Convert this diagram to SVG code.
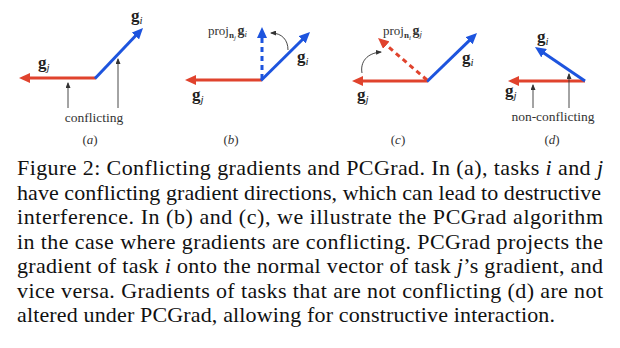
<svg xmlns="http://www.w3.org/2000/svg" width="620" height="348" viewBox="0 0 620 348">
<style>
text{font-family:"Liberation Serif","Times New Roman",Times,serif}
.red{stroke:#e0432d;stroke-width:3;fill:none}
.blue{stroke:#1d54de;stroke-width:3;fill:none}
.dash{stroke-dasharray:5,4}
.thin{stroke:#333;stroke-width:0.9;fill:none}
.g{font-weight:bold;font-size:17px;fill:#222}
.sub{font-style:italic;font-weight:normal;font-size:11px}
.ann{font-size:13.5px;fill:#333}
.pl{font-size:13px;fill:#333}
.cap{font-size:22px;fill:#111}
.it{font-style:italic}
.b{font-weight:bold}
</style>
<defs>
<marker id="ar" viewBox="0 0 11 10" refX="3" refY="5" markerWidth="11" markerHeight="10" markerUnits="userSpaceOnUse" orient="auto"><path d="M0,0 L11,5 L0,10 z" fill="#e0432d"/></marker>
<marker id="ab" viewBox="0 0 11 10" refX="3" refY="5" markerWidth="11" markerHeight="10" markerUnits="userSpaceOnUse" orient="auto"><path d="M0,0 L11,5 L0,10 z" fill="#1d54de"/></marker>
<marker id="ak" viewBox="0 0 6 5" refX="5" refY="2.5" markerWidth="6" markerHeight="5" markerUnits="userSpaceOnUse" orient="auto"><path d="M0,0 L6,2.5 L0,5 z" fill="#333"/></marker>
</defs>

<g id="panel-a">
<line class="red" x1="96" y1="78" x2="27" y2="78" marker-end="url(#ar)"/>
<line class="blue" x1="95" y1="78.5" x2="137.5" y2="33.8" marker-end="url(#ab)"/>
<text class="g" x="131" y="21">g<tspan class="sub" dy="3">i</tspan></text>
<text class="g" x="38" y="68">g<tspan class="sub" dy="3">j</tspan></text>
<line class="thin" x1="68" y1="108" x2="68" y2="83" marker-end="url(#ak)"/>
<line class="thin" x1="118" y1="108" x2="118" y2="59" marker-end="url(#ak)"/>
<text class="ann" x="94" y="122" text-anchor="middle">conflicting</text>
<text class="pl" x="90" y="144" text-anchor="middle">(<tspan class="it">a</tspan>)</text>
</g>

<g id="panel-b">
<line class="red" x1="262" y1="80" x2="193" y2="80" marker-end="url(#ar)"/>
<line class="blue" x1="261" y1="80.5" x2="304.3" y2="37.7" marker-end="url(#ab)"/>
<line class="blue dash" x1="262" y1="79" x2="262" y2="35" marker-end="url(#ab)"/>
<text class="pl" x="208" y="35">proj<tspan class="b" font-size="9" dy="3">n</tspan><tspan class="it" font-size="7" dy="1.5">j</tspan><tspan class="b" font-size="14" dx="1.5" dy="-4.5">g</tspan><tspan class="it" font-size="9" dy="2">i</tspan></text>
<path class="thin" d="M288,50 C288,40 282,33 271,33" marker-end="url(#ak)"/>
<text class="g" x="297" y="62">g<tspan class="sub" dy="3">i</tspan></text>
<text class="g" x="192" y="100">g<tspan class="sub" dy="3">j</tspan></text>
<text class="pl" x="231" y="144" text-anchor="middle">(<tspan class="it">b</tspan>)</text>
</g>

<g id="panel-c">
<line class="red" x1="428" y1="81" x2="360" y2="81" marker-end="url(#ar)"/>
<line class="blue" x1="427" y1="81.5" x2="471.3" y2="38.6" marker-end="url(#ab)"/>
<line class="red dash" x1="427" y1="80" x2="384.1" y2="43.2" marker-end="url(#ar)"/>
<text class="pl" x="383" y="35">proj<tspan class="b" font-size="9" dy="3">n</tspan><tspan class="it" font-size="7" dy="1.5">i</tspan><tspan class="b" font-size="14" dx="1.5" dy="-4.5">g</tspan><tspan class="it" font-size="9" dy="2">j</tspan></text>
<path class="thin" d="M362,73 C360,62 367,53 381,52" marker-end="url(#ak)"/>
<text class="g" x="462" y="63">g<tspan class="sub" dy="3">i</tspan></text>
<text class="g" x="357" y="100">g<tspan class="sub" dy="3">j</tspan></text>
<text class="pl" x="398" y="144" text-anchor="middle">(<tspan class="it">c</tspan>)</text>
</g>

<g id="panel-d">
<line class="red" x1="585" y1="81" x2="516" y2="81" marker-end="url(#ar)"/>
<line class="blue" x1="585" y1="81" x2="541.6" y2="51.5" marker-end="url(#ab)"/>
<text class="g" x="537" y="42">g<tspan class="sub" dy="3">i</tspan></text>
<text class="g" x="505" y="96">g<tspan class="sub" dy="3">j</tspan></text>
<line class="thin" x1="533" y1="108" x2="533" y2="85" marker-end="url(#ak)"/>
<line class="thin" x1="569" y1="108" x2="569" y2="74" marker-end="url(#ak)"/>
<text class="ann" x="553" y="121" text-anchor="middle">non-conflicting</text>
<text class="pl" x="552" y="144" text-anchor="middle">(<tspan class="it">d</tspan>)</text>
</g>

<g id="caption">
<text class="cap" x="17" y="175" textLength="586" lengthAdjust="spacing">Figure 2: Conflicting gradients and PCGrad. In (a), tasks <tspan class="it">i</tspan> and <tspan class="it">j</tspan></text>
<text class="cap" x="17" y="199.5" textLength="584" lengthAdjust="spacing">have conflicting gradient directions, which can lead to destructive</text>
<text class="cap" x="17" y="224" textLength="586" lengthAdjust="spacing">interference.  In (b) and (c), we illustrate the PCGrad algorithm</text>
<text class="cap" x="17" y="248.5" textLength="586" lengthAdjust="spacing">in the case where gradients are conflicting. PCGrad projects the</text>
<text class="cap" x="17" y="273" textLength="586" lengthAdjust="spacing">gradient of task <tspan class="it">i</tspan> onto the normal vector of task <tspan class="it">j</tspan>’s gradient, and</text>
<text class="cap" x="17" y="297.5" textLength="586" lengthAdjust="spacing">vice versa. Gradients of tasks that are not conflicting (d) are not</text>
<text class="cap" x="17" y="322" textLength="538" lengthAdjust="spacing">altered under PCGrad, allowing for constructive interaction.</text>
</g>
</svg>
